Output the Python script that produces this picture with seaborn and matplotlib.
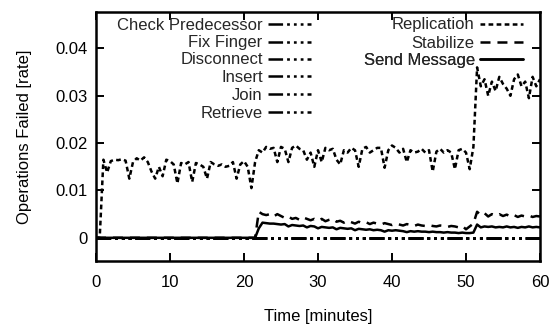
import numpy as np
import pandas as pd
import matplotlib
matplotlib.use("Agg")
import matplotlib.pyplot as plt
from matplotlib.lines import Line2D
import seaborn as sns

# ---- data ----
time_min = [i * 0.5 for i in range(121)]

replication = [
    0.0, 0.0, 0.0165, 0.0138, 0.0162, 0.0165, 0.0164, 0.0166, 0.0163, 0.0125,
    0.0160, 0.0168, 0.0163, 0.0170, 0.0160, 0.0140, 0.0125, 0.0150, 0.0130, 0.0165,
    0.0162, 0.0155, 0.0115, 0.0158, 0.0155, 0.0160, 0.0118, 0.0158, 0.0155, 0.0150,
    0.0125, 0.0160, 0.0155, 0.0152, 0.0155, 0.0150, 0.0152, 0.0160, 0.0125, 0.0155,
    0.0162, 0.0150, 0.0105, 0.0160, 0.0185, 0.0180, 0.0192, 0.0188, 0.0190, 0.0160,
    0.0192, 0.0188, 0.0160, 0.0190, 0.0195, 0.0188, 0.0185, 0.0165, 0.0180, 0.0150,
    0.0185, 0.0160, 0.0190, 0.0185, 0.0188, 0.0165, 0.0155, 0.0185, 0.0180, 0.0190,
    0.0185, 0.0150, 0.0188, 0.0192, 0.0180, 0.0185, 0.0190, 0.0190, 0.0148, 0.0185,
    0.0195, 0.0190, 0.0180, 0.0188, 0.0160, 0.0185, 0.0180, 0.0182, 0.0188, 0.0180,
    0.0185, 0.0140, 0.0182, 0.0188, 0.0180, 0.0185, 0.0180, 0.0145, 0.0185, 0.0188,
    0.0180, 0.0145, 0.0192, 0.0360, 0.0320, 0.0335, 0.0300, 0.0330, 0.0310, 0.0340,
    0.0325, 0.0315, 0.0300, 0.0335, 0.0345, 0.0320, 0.0330, 0.0295, 0.0340, 0.0320,
    0.0335,
]

stabilize = [0.0] * 44 + [
    0.0055, 0.0050, 0.0048, 0.0050, 0.0045, 0.0050, 0.0046, 0.0042, 0.0045, 0.0040,
    0.0042, 0.0038, 0.0043, 0.0040, 0.0037, 0.0040, 0.0036, 0.0040, 0.0035, 0.0038,
    0.0040, 0.0034, 0.0036, 0.0032, 0.0036, 0.0033, 0.0030, 0.0034, 0.0031, 0.0033,
    0.0029, 0.0032, 0.0030, 0.0028, 0.0031, 0.0029, 0.0027, 0.0030, 0.0028, 0.0026,
    0.0029, 0.0027, 0.0025, 0.0028, 0.0026, 0.0025, 0.0027, 0.0025, 0.0024, 0.0026,
    0.0025, 0.0023, 0.0025, 0.0024, 0.0022, 0.0025, 0.0018, 0.0024, 0.0030, 0.0055,
    0.0048, 0.0052, 0.0045, 0.0050, 0.0047, 0.0050, 0.0046, 0.0049, 0.0045, 0.0048,
    0.0044, 0.0047, 0.0045, 0.0047, 0.0044, 0.0046, 0.0045,
]

send_message = [0.0] * 44 + [
    0.0020, 0.0032, 0.0031, 0.0030, 0.0030, 0.0029, 0.0028, 0.0029, 0.0024, 0.0027,
    0.0026, 0.0025, 0.0026, 0.0022, 0.0025, 0.0024, 0.0020, 0.0023, 0.0022, 0.0021,
    0.0022, 0.0018, 0.0021, 0.0020, 0.0019, 0.0020, 0.0016, 0.0019, 0.0018, 0.0017,
    0.0018, 0.0016, 0.0017, 0.0016, 0.0013, 0.0016, 0.0015, 0.0016, 0.0015, 0.0014,
    0.0012, 0.0014, 0.0013, 0.0014, 0.0013, 0.0013, 0.0012, 0.0013, 0.0012, 0.0012,
    0.0011, 0.0012, 0.0011, 0.0011, 0.0010, 0.0011, 0.0010, 0.0010, 0.0011, 0.0028,
    0.0022, 0.0024, 0.0023, 0.0024, 0.0022, 0.0023, 0.0022, 0.0024, 0.0022, 0.0023,
    0.0021, 0.0023, 0.0022, 0.0024, 0.0022, 0.0023, 0.0022,
]

check_predecessor = [0.0] * 121
fix_finger = [0.0] * 121
disconnect = [0.0] * 121
insert = [0.0] * 121
join = [0.0] * 121
retrieve = [0.0] * 121

left_names = ["Check Predecessor", "Fix Finger", "Disconnect", "Insert", "Join", "Retrieve"]
right_names = ["Replication", "Stabilize", "Send Message"]

x_ticks = [0, 10, 20, 30, 40, 50, 60]
y_ticks = [0, 0.01, 0.02, 0.03, 0.04]
y_tick_labels = ["0", "0.01", "0.02", "0.03", "0.04"]

series = {
    "Replication": replication,
    "Stabilize": stabilize,
    "Send Message": send_message,
    "Check Predecessor": check_predecessor,
    "Fix Finger": fix_finger,
    "Disconnect": disconnect,
    "Insert": insert,
    "Join": join,
    "Retrieve": retrieve,
}

df = pd.concat(
    [pd.DataFrame({"t": time_min, "v": vals, "series": name}) for name, vals in series.items()],
    ignore_index=True,
)

# ---- style ----
sns.set_theme(style="ticks")
plt.rcParams["font.family"] = ["Liberation Sans", "DejaVu Sans"]
plt.rcParams["lines.scale_dashes"] = False

FS = 12
dash_dot3 = (10.5, 2.9, 2.0, 2.9, 2.0, 2.9, 2.0, 2.9)
dash_map = {
    "Replication": (3.4, 2.4),
    "Stabilize": (7.2, 5.0),
    "Send Message": "",
}
for n in left_names:
    dash_map[n] = dash_dot3

order = right_names + left_names
LW = 1.8

fig = plt.figure(figsize=(5.5, 3.24), dpi=100)
ax = fig.add_axes([96 / 550, 63 / 324, 444 / 550, 249 / 324])

sns.lineplot(
    data=df, x="t", y="v", style="series", style_order=order, dashes=dash_map,
    color="black", lw=LW, estimator=None, sort=False, legend=False, ax=ax,
)

ax.set_xlim(0, 60)
ax.set_ylim(-0.0049, 0.0477)
ax.set_xticks(x_ticks)
ax.set_xticklabels([str(v) for v in x_ticks])
ax.set_yticks(y_ticks)
ax.set_yticklabels(y_tick_labels)
ax.tick_params(direction="in", length=6, width=1.4, top=True, right=True,
               labelsize=FS, pad=6, colors="black")
ax.tick_params(axis="x", pad=10)
for s in ax.spines.values():
    s.set_visible(True)
    s.set_linewidth(1.8)
    s.set_color("black")
ax.set_xlabel("Time [minutes]", fontsize=FS, labelpad=14, color="black")
ax.set_ylabel("Operations Failed [rate]", fontsize=FS, labelpad=17, color="black")

# gnuplot-style key: right-aligned text followed by sample
def add_key(name, xr, y):
    h = Line2D([], [], color="black", lw=LW)
    d = dash_map[name]
    if d != "":
        h.set_dashes(d)
    lg = ax.legend([h], [name], loc="center right", bbox_to_anchor=(xr, y),
                   bbox_transform=ax.transAxes, frameon=False, markerfirst=False,
                   handlelength=2.6, handletextpad=0.3, borderpad=0, borderaxespad=0,
                   fontsize=FS)
    ax.add_artist(lg)

left_rows = [25, 43, 60, 77, 95, 113]
for n, yp in zip(left_names, left_rows):
    add_key(n, (311 - 96) / 444, (261 - yp) / 249)
right_rows = [25, 43, 60]
for n, yp in zip(right_names, right_rows):
    add_key(n, (523 - 96) / 444, (261 - yp) / 249)

fig.savefig("out.png", dpi=100)
